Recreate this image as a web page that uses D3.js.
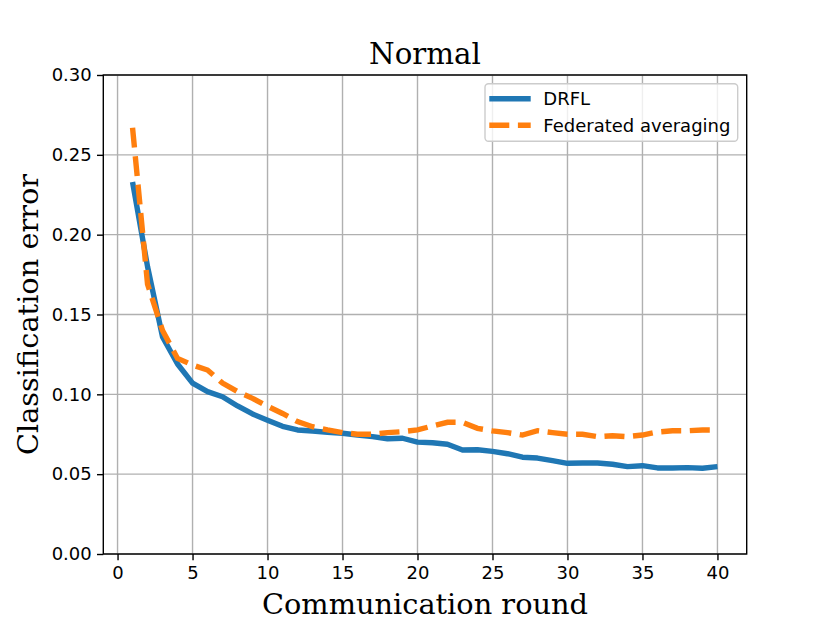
<!DOCTYPE html>
<html><head><meta charset="utf-8">
<script src="https://cdn.jsdelivr.net/npm/d3@7"></script>
<style>body{margin:0;background:#fff}</style>
</head><body>
<svg id="c" width="830" height="623"></svg>
<script>
const rounds = d3.range(1, 41);
const drfl = [0.233,0.180,0.136,0.119,0.107,0.1017,0.0985,0.0927,0.0877,0.0838,
  0.0800,0.0777,0.0770,0.0762,0.0756,0.0745,0.0735,0.0722,0.0725,0.0701,
  0.0697,0.0687,0.0651,0.0653,0.0643,0.0628,0.0606,0.0601,0.0585,0.0568,
  0.0570,0.0570,0.0562,0.0547,0.0553,0.0539,0.0539,0.0541,0.0537,0.0547];
const fedavg = [0.267,0.169,0.140,0.1225,0.1184,0.1152,0.107,0.1017,0.0975,0.0925,
  0.0880,0.0829,0.0797,0.0777,0.0760,0.0750,0.0750,0.0760,0.0766,0.0777,
  0.0802,0.0825,0.0825,0.0787,0.0771,0.0760,0.0745,0.0772,0.0760,0.0750,
  0.0750,0.0735,0.0741,0.0735,0.0745,0.0764,0.0772,0.0772,0.0777,0.0777];
const xTicks = [0,5,10,15,20,25,30,35,40];
const yTicks = [0,0.05,0.10,0.15,0.20,0.25,0.30];
const seriesNames = ["DRFL","Federated averaging"];
const colors = ["#1f77b4","#ff7f0e"];

const L=103.3, R=746.7, T=75, B=554;
const svg = d3.select("#c");
const x = d3.scaleLinear().domain([-0.95, 41.95]).range([L, R]);
const y = d3.scaleLinear().domain([0, 0.30]).range([B, T]);

// grid
const g = svg.append("g");
g.selectAll(".gx").data(xTicks).enter().append("line")
  .attr("x1", d=>x(d)).attr("x2", d=>x(d)).attr("y1", T).attr("y2", B)
  .attr("stroke","#b0b0b0").attr("stroke-width",1.4);
g.selectAll(".gy").data(yTicks).enter().append("line")
  .attr("y1", d=>y(d)).attr("y2", d=>y(d)).attr("x1", L).attr("x2", R)
  .attr("stroke","#b0b0b0").attr("stroke-width",1.4);

// lines
const line = (vals) => d3.line().x((d,i)=>x(rounds[i])).y(d=>y(d))(vals);
svg.append("path").attr("d", line(drfl)).attr("fill","none")
  .attr("stroke",colors[0]).attr("stroke-width",5.4).attr("stroke-linejoin","round");
svg.append("path").attr("d", line(fedavg)).attr("fill","none")
  .attr("stroke",colors[1]).attr("stroke-width",5.4).attr("stroke-dasharray","20,8.6");

// spines
svg.append("rect").attr("x",L).attr("y",T).attr("width",R-L).attr("height",B-T)
  .attr("fill","none").attr("stroke","#000").attr("stroke-width",1.4);

// axes
const xAxis = d3.axisBottom(x).tickValues(xTicks).tickSize(6.3).tickPadding(6).tickFormat(d3.format("d"));
const yAxis = d3.axisLeft(y).tickValues(yTicks).tickSize(6.3).tickPadding(5.3).tickFormat(d3.format(".2f"));
const ax = svg.append("g").attr("transform",`translate(0,${B})`).call(xAxis);
const ay = svg.append("g").attr("transform",`translate(${L},0)`).call(yAxis);
[ax, ay].forEach(a => {
  a.select(".domain").remove();
  a.selectAll(".tick line").attr("stroke","#000").attr("stroke-width",1.4);
  a.selectAll(".tick text").attr("font-family","DejaVu Sans").attr("font-size",18).attr("fill","#000");
});

// title & labels
svg.append("text").attr("x",(L+R)/2).attr("y",64.3).attr("text-anchor","middle")
  .attr("font-family","DejaVu Serif").attr("font-size",29.3).text("Normal");
svg.append("text").attr("x",(L+R)/2).attr("y",614.3).attr("text-anchor","middle")
  .attr("font-family","DejaVu Serif").attr("font-size",28.8).text("Communication round");
svg.append("text").attr("transform",`translate(38.3,${(T+B)/2}) rotate(-90)`).attr("text-anchor","middle")
  .attr("font-family","DejaVu Serif").attr("font-size",28.8).text("Classification error");

// legend
const lg = svg.append("g");
lg.append("rect").attr("x",485).attr("y",83.7).attr("width",252.7).attr("height",57.6)
  .attr("rx",3.5).attr("fill","#fff").attr("fill-opacity",0.8).attr("stroke","#cccccc").attr("stroke-width",1.4);
seriesNames.forEach((n,i)=>{
  const yy = 98.7 + i*26.6;
  lg.append("line").attr("x1",489.3).attr("x2",530.7).attr("y1",yy).attr("y2",yy)
    .attr("stroke",colors[i]).attr("stroke-width",5.4).attr("stroke-dasharray", i===1 ? "20,8.6" : null);
  lg.append("text").attr("x",543.3).attr("y",yy+6.3).attr("font-family","DejaVu Sans").attr("font-size",18).text(n);
});
</script>
</body></html>
